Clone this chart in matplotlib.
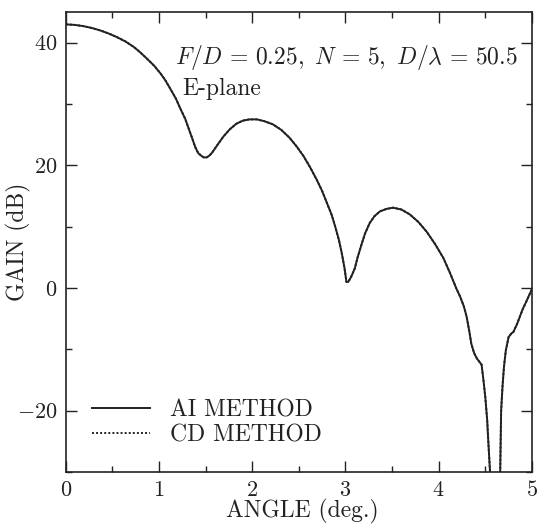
import matplotlib
matplotlib.use("Agg")
import matplotlib.pyplot as plt
from matplotlib.ticker import MultipleLocator

plt.rcParams["font.family"] = "serif"
plt.rcParams["font.serif"] = ["cmr10"]
plt.rcParams["mathtext.fontset"] = "cm"
plt.rcParams["axes.formatter.use_mathtext"] = True

# values
angle = [0.0, 0.10, 0.19, 0.28, 0.37, 0.46, 0.55, 0.64, 0.73, 0.80, 0.87, 0.95,
         1.02, 1.07, 1.12, 1.18, 1.23, 1.28, 1.32, 1.36, 1.39, 1.42, 1.45, 1.48,
         1.51, 1.54, 1.57, 1.62, 1.69, 1.76, 1.83, 1.90, 1.97, 2.05, 2.13, 2.22,
         2.31, 2.40, 2.48, 2.55, 2.62, 2.69, 2.75, 2.80, 2.85, 2.89, 2.93, 2.96,
         2.99, 3.01, 3.03, 3.06, 3.10, 3.13, 3.17, 3.21, 3.26, 3.31, 3.37, 3.44,
         3.51, 3.60, 3.69, 3.78, 3.87, 3.96, 4.05, 4.12, 4.19, 4.23, 4.27, 4.30,
         4.33, 4.35, 4.38, 4.41, 4.44, 4.46, 4.48, 4.50, 4.52, 4.53, 4.55, 4.58,
         4.63, 4.66, 4.67, 4.685, 4.70, 4.72, 4.75, 4.78, 4.80, 4.84, 4.87, 4.90,
         4.94, 4.97, 5.0]
gain_ai = [43.0, 42.9, 42.7, 42.4, 42.0, 41.5, 40.9, 40.2, 39.3, 38.4, 37.4, 36.2,
           34.9, 33.8, 32.5, 30.9, 29.2, 27.6, 25.9, 24.2, 22.9, 22.0, 21.6, 21.3,
           21.3, 21.6, 22.1, 23.2, 24.7, 25.9, 26.8, 27.3, 27.5, 27.5, 27.2, 26.7,
           25.8, 24.5, 23.0, 21.5, 19.7, 17.7, 15.8, 13.9, 12.0, 10.0, 7.8, 5.7,
           3.2, 1.0, 1.0, 1.8, 3.2, 5.0, 7.0, 8.9, 10.6, 11.7, 12.5, 12.9,
           13.1, 12.8, 12.0, 10.8, 9.2, 7.2, 4.9, 2.5, -0.1, -1.4, -3.0, -4.7,
           -7.2, -9.1, -10.6, -11.5, -12.1, -12.5, -15.0, -17.8, -21.5, -24.4, -29.8, -45.0,
           -45.0, -29.8, -20.0, -16.0, -12.9, -10.2, -8.0, -7.4, -7.2, -5.9, -4.7, -3.5,
           -2.2, -1.2, -0.2]
gain_cd = list(gain_ai)  # the two methods overlap on the plot

ink = "#222222"

fig = plt.figure(figsize=(5.4, 5.25), dpi=100)
ax = fig.add_axes([0.122, 0.101, 0.863, 0.876])

ax.plot(angle, gain_ai, color=ink, lw=1.4, ls="-", label="AI METHOD")
ax.plot(angle, gain_cd, color=ink, lw=1.4, ls=(0, (1, 1.1)), label="CD METHOD")

ax.set_xlim(0, 5)
ax.set_ylim(-30, 45)
ax.xaxis.set_major_locator(MultipleLocator(1))
ax.xaxis.set_minor_locator(MultipleLocator(0.5))
ax.yaxis.set_major_locator(MultipleLocator(20))
ax.yaxis.set_minor_locator(MultipleLocator(10))
ax.tick_params(which="both", direction="in", top=True, right=True, labelsize=16,
               width=1.0, colors=ink)
ax.tick_params(which="major", length=8, pad=6)
ax.tick_params(which="minor", length=4)
for s in ax.spines.values():
    s.set_linewidth(1.2)
    s.set_color(ink)

ax.set_xlabel("ANGLE (deg.)", fontsize=17, color=ink)
ax.xaxis.set_label_coords(0.507, -0.058)
ax.set_ylabel("GAIN (dB)", fontsize=17, color=ink)
ax.yaxis.set_label_coords(-0.075, 0.5)

ax.text(0.97, 0.902, r"$F/D\,=\,0.25,\ N\,=\,5,\ D/\lambda\,=\,50.5$", transform=ax.transAxes,
        ha="right", va="center", fontsize=17, color=ink)
ax.text(0.25, 0.832, "E-plane", transform=ax.transAxes, ha="left", va="center",
        fontsize=17, color=ink)

leg = ax.legend(loc="lower left", bbox_to_anchor=(0.02, 0.02), frameon=False, fontsize=17,
                handlelength=2.45, handletextpad=0.85, labelspacing=0.12, borderpad=0.2)
for t in leg.get_texts():
    t.set_color(ink)

fig.savefig("out.png", dpi=100)
